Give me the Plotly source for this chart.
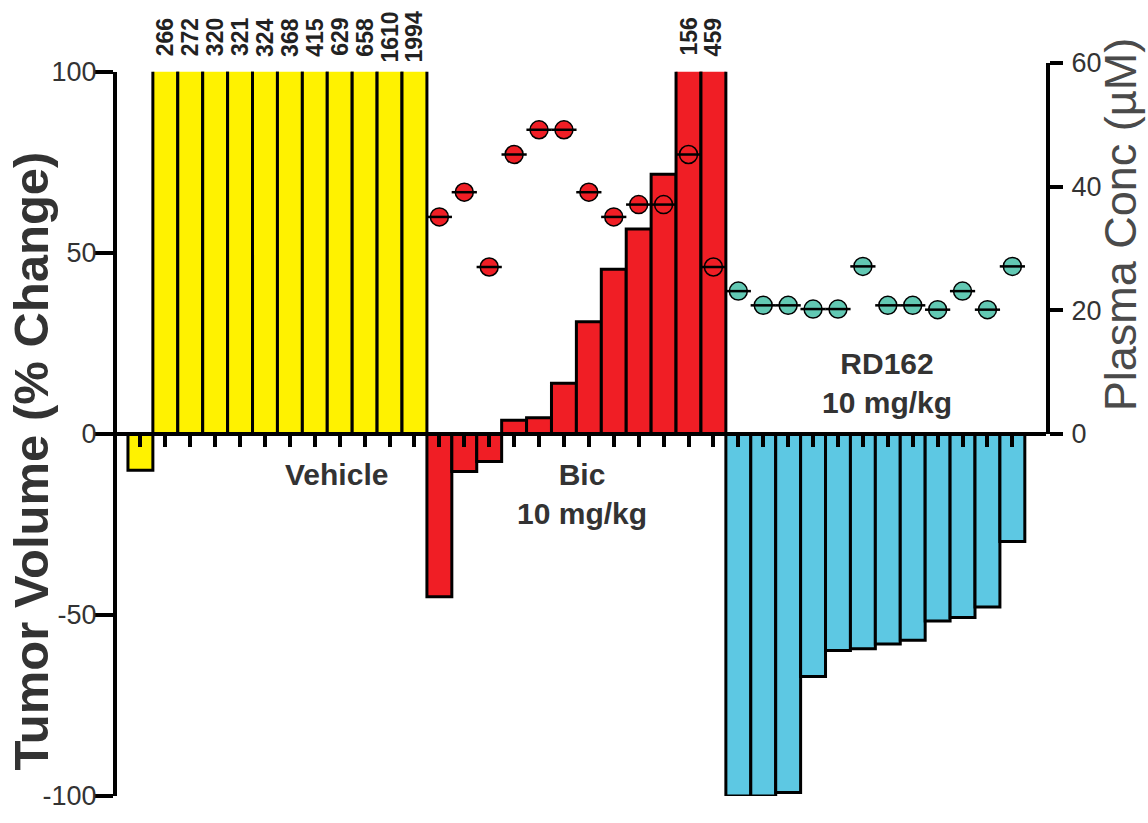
import plotly.graph_objects as go

# ---- data ----
vehicle_vals = [-10, 266, 272, 320, 321, 324, 368, 415, 629, 658, 1610, 1994]
bic_vals = [-45, -10.4, -7.6, 3.8, 4.5, 14, 31, 45.5, 56.6, 71.7, 156, 459]
rd162_vals = [-100, -100, -99, -67, -59.8, -59.3, -58, -57, -51.7, -50.7, -47.8, -29.7]
bic_conc = [35.1, 39.1, 27.0, 45.2, 49.2, 49.2, 39.1, 35.1, 37.1, 37.1, 45.2, 27.0]
rd162_conc = [23.1, 20.8, 20.8, 20.2, 20.2, 27.1, 20.8, 20.8, 20.1, 23.1, 20.1, 27.1]
left_tickvals = [100, 50, 0, -50, -100]
left_ticktext = ["100", "50", "0", "-50", "-100"]
right_tickvals = [0, 20, 40, 60]
right_ticktext = ["0", "20", "40", "60"]
group_labels = ["Vehicle", "Bic<br>10 mg/kg", "RD162<br>10 mg/kg"]
y_title = "Tumor Volume (% Change)"
y2_title = "Plasma Conc (µM)"

Y_MAX = 100  # visible top of the % change axis; taller bars are cut off there

# ---- layout geometry ----
W_FIG, H_FIG = 1148, 823
L, R, T, B = 117, 102, 63, 15
PW = W_FIG - L - R
PH = H_FIG - T - B
BOTTOM = H_FIG - B


def px_x(p):
    return (p - L) / PW


def px_y(p):
    return (BOTTOM - p) / PH


YELLOW = "#FFF200"
RED = "#F01E25"
BLUE = "#5DC8E3"
TEAL = "#62C8B3"
FONT = "Liberation Sans, Arial, sans-serif"

n = len(vehicle_vals)
x_veh = list(range(0, n))
x_bic = list(range(n, 2 * n))
x_rd = list(range(2 * n, 3 * n))

fig = go.Figure()
for xs, vals, col in [(x_veh, vehicle_vals, YELLOW), (x_bic, bic_vals, RED), (x_rd, rd162_vals, BLUE)]:
    fig.add_trace(go.Bar(x=xs, y=vals, width=1, marker=dict(color=col, line=dict(color="black", width=3)),
                         showlegend=False))

for xs, vals, col in [(x_bic, bic_conc, RED), (x_rd, rd162_conc, TEAL)]:
    fig.add_trace(go.Scatter(x=xs, y=vals, yaxis="y2", mode="markers",
                             marker=dict(symbol="circle", size=18, color=col, line=dict(color="black", width=1.5)),
                             showlegend=False))
    fig.add_trace(go.Scatter(x=xs, y=vals, yaxis="y2", mode="markers",
                             marker=dict(symbol="line-ew", size=18, color="black", line=dict(color="black", width=2.5)),
                             showlegend=False, hoverinfo="skip"))

annotations = []
# labels for cut-off bars
for xs, vals in [(x_veh, vehicle_vals), (x_bic, bic_vals)]:
    for xv, v in zip(xs, vals):
        if v > Y_MAX:
            annotations.append(dict(x=xv, xref="x", y=1, yref="paper", yshift=26, text="<b>%d</b>" % v,
                                    textangle=-90, showarrow=False, xanchor="center", yanchor="middle",
                                    font=dict(family=FONT, size=23, color="#222")))


def add_text(xp, yp, text, size, color, angle=0):
    annotations.append(dict(x=px_x(xp), y=px_y(yp), xref="paper", yref="paper", text=text,
                            textangle=angle, showarrow=False, xanchor="center", yanchor="middle",
                            font=dict(family=FONT, size=size, color=color)))


add_text(336, 481, "<b>%s</b>" % group_labels[0], 30, "#333")
add_text(582, 501, "<b>%s</b>" % group_labels[1], 30, "#333")
add_text(887, 388, "<b>%s</b>" % group_labels[2], 30, "#333")
add_text(31, 468, "<b>%s</b>" % y_title, 49, "#333", -90)
add_text(1120, 227, y2_title, 45, "#4a4a4a", -90)

fig.update_layout(
    width=W_FIG, height=H_FIG,
    margin=dict(l=L, r=R, t=T, b=B, pad=0),
    paper_bgcolor="white", plot_bgcolor="rgba(0,0,0,0)",
    barmode="overlay",
    xaxis=dict(range=[-0.94, 36.35], anchor="free", position=(BOTTOM - 440) / PH,
               showline=True, linecolor="black", linewidth=4,
               ticks="outside", tickvals=list(range(0, 3 * n)), ticklen=11, tickwidth=4, tickcolor="black",
               showticklabels=False, showgrid=False, zeroline=False),
    yaxis=dict(range=[-Y_MAX, Y_MAX], domain=[0, 736 / PH], anchor="x",
               showline=True, linecolor="black", linewidth=4,
               ticks="outside", ticklen=18, tickwidth=4, tickcolor="black",
               tickvals=left_tickvals, ticktext=left_ticktext, ticklabelstandoff=-7,
               tickfont=dict(family=FONT, size=27, color="#333"),
               showgrid=False, zeroline=False),
    yaxis2=dict(range=[0, 60], domain=[(BOTTOM - 440) / PH, 1], anchor="x", side="right",
                showline=True, linecolor="black", linewidth=4,
                ticks="outside", ticklen=13, tickwidth=4, tickcolor="black",
                tickvals=right_tickvals, ticktext=right_ticktext, ticklabelstandoff=3,
                tickfont=dict(family=FONT, size=27, color="#333"),
                showgrid=False, zeroline=False),
    annotations=annotations,
)

fig.write_html("out.html")
